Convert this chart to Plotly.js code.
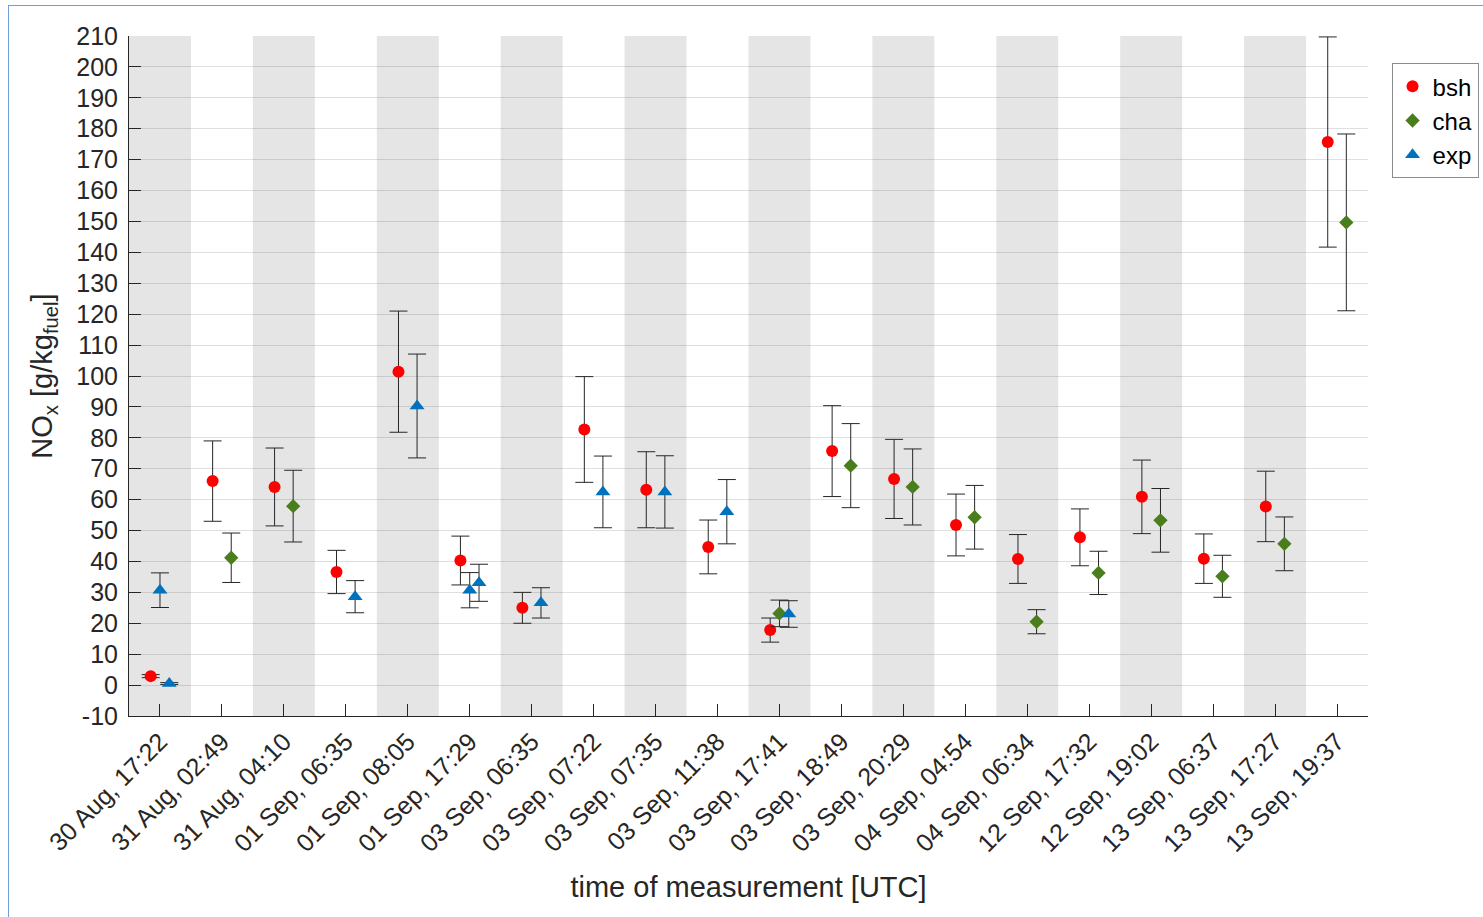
<!DOCTYPE html>
<html>
<head>
<meta charset="utf-8">
<script src="https://cdn.plot.ly/plotly-3.0.1.min.js"></script>
<style>
  html, body { margin: 0; padding: 0; background: #ffffff; }
  #chart { width: 1483px; height: 917px; }
  #frame { position: absolute; left: 8px; top: 5px; width: 1500px; height: 950px;
           border-left: 1px solid #6f9fd8; border-top: 1px solid #6f9fd8; pointer-events: none; }
</style>
</head>
<body>
<div id="chart"></div>
<div id="frame"></div>
<script>
// ---- data ----
const categories = ["30 Aug, 17:22", "31 Aug, 02:49", "31 Aug, 04:10", "01 Sep, 06:35", "01 Sep, 08:05",
  "01 Sep, 17:29", "03 Sep, 06:35", "03 Sep, 07:22", "03 Sep, 07:35", "03 Sep, 11:38",
  "03 Sep, 17:41", "03 Sep, 18:49", "03 Sep, 20:29", "04 Sep, 04:54", "04 Sep, 06:34",
  "12 Sep, 17:32", "12 Sep, 19:02", "13 Sep, 06:37", "13 Sep, 17:27", "13 Sep, 19:37"];

const bsh    = [2.9, 66.0, 64.1, 36.6, 101.4, 40.3, 25.0, 82.7, 63.2, 44.7, 17.8, 75.7, 66.7, 51.8, 40.8, 47.8, 60.9, 40.9, 57.8, 175.7];
const bshErr = [0.5, 13.0, 12.6, 7.0, 19.6, 7.9, 5.0, 17.1, 12.3, 8.7, 3.9, 14.7, 12.8, 10.0, 7.9, 9.2, 11.9, 8.0, 11.4, 34.0];

const cha    = [null, 41.2, 57.9, null, null, null, null, null, null, null, 23.2, 71.0, 64.1, 54.3, 20.5, 36.3, 53.3, 35.2, 45.7, 149.7];
const chaErr = [null, 8.0, 11.6, null, null, null, null, null, null, null, 4.3, 13.6, 12.3, 10.3, 3.9, 7.0, 10.3, 6.8, 8.7, 28.6];

// second "exp" measurement at the same time slot (drawn in the middle position)
const exp2    = [30.7, null, null, null, null, 30.7, null, null, null, null, null, null, null, null, null, null, null, null, null, null];
const exp2Err = [5.6, null, null, null, null, 5.7, null, null, null, null, null, null, null, null, null, null, null, null, null, null];

const exp    = [0.5, null, null, 28.6, 90.3, 33.1, 26.6, 62.5, 62.5, 56.1, 23.0, null, null, null, null, null, null, null, null, null];
const expErr = [0.3, null, null, 5.2, 16.8, 6.0, 4.9, 11.6, 11.7, 10.4, 4.3, null, null, null, null, null, null, null, null, null];

const yTickValues = [-10, 0, 10, 20, 30, 40, 50, 60, 70, 80, 90, 100, 110, 120, 130, 140, 150, 160, 170, 180, 190, 200, 210];

// ---- positions: series present in a slot are spread around the slot centre ----
const seriesOrder = [bsh, cha, exp2, exp];
const xs = seriesOrder.map(() => []);
categories.forEach((c, i) => {
  const present = seriesOrder.map((s, k) => s[i] !== null ? k : -1).filter(k => k >= 0);
  const n = present.length;
  const offs = n === 3 ? [-0.15, 0, 0.15] : (n === 2 ? [-0.15, 0.15] : [0]);
  seriesOrder.forEach((s, k) => {
    const r = present.indexOf(k);
    xs[k].push(r >= 0 ? (i + 1) + offs[r] : null);
  });
});

const errStyle = (arr) => ({ type: 'data', array: arr, visible: true, color: '#262626', thickness: 1, width: 9 });

const traces = [
  { name: 'bsh', x: xs[0], y: bsh, type: 'scatter', mode: 'markers',
    marker: { symbol: 'circle', size: 12, color: '#ff0000' }, error_y: errStyle(bshErr) },
  { name: 'cha', x: xs[1], y: cha, type: 'scatter', mode: 'markers',
    marker: { symbol: 'diamond', size: 11, color: '#4a7d1c' }, error_y: errStyle(chaErr) },
  { name: 'exp', x: xs[2], y: exp2, type: 'scatter', mode: 'markers', showlegend: false,
    marker: { symbol: 'triangle-up', size: 13, color: '#0072bd' }, error_y: errStyle(exp2Err) },
  { name: 'exp', x: xs[3], y: exp, type: 'scatter', mode: 'markers',
    marker: { symbol: 'triangle-up', size: 13, color: '#0072bd' }, error_y: errStyle(expErr) }
];

// alternating shaded bands for odd slots
const shapes = [];
categories.forEach((c, i) => {
  if (i % 2 === 0) {
    shapes.push({ type: 'rect', xref: 'x', yref: 'paper', x0: i + 0.5, x1: i + 1.5, y0: 0, y1: 1,
      fillcolor: '#e5e5e5', line: { width: 0 }, layer: 'below' });
  }
});

const tickVals = categories.map((c, i) => i + 1);

const layout = {
  width: 1483, height: 917,
  margin: { l: 129, r: 115, t: 36, b: 201, autoexpand: false },
  paper_bgcolor: '#ffffff', plot_bgcolor: '#ffffff',
  font: { family: 'Liberation Sans, Arial, sans-serif', size: 25, color: '#262626' },
  showlegend: true,
  legend: { x: 1.019, xanchor: 'left', y: 0.96, yanchor: 'top',
    bordercolor: '#8c8c8c', borderwidth: 1, bgcolor: '#ffffff',
    font: { size: 24, color: '#000000' }, itemwidth: 30, tracegroupgap: 0 },
  xaxis: {
    range: [0.5, 20.5], tickmode: 'array', tickvals: tickVals, ticktext: categories,
    tickangle: -45, ticks: 'inside', ticklen: 12, tickcolor: '#262626', tickwidth: 1,
    showgrid: false, zeroline: false, showline: true, linecolor: '#262626', linewidth: 1,
    tickfont: { size: 25, color: '#262626' },
    title: { text: 'time of measurement [UTC]', font: { size: 29, color: '#262626' }, standoff: 20 }
  },
  yaxis: {
    range: [-10, 210], tickmode: 'array', tickvals: yTickValues, ticktext: yTickValues.map(v => String(v)),
    ticks: 'inside', ticklen: 12, tickcolor: '#262626', tickwidth: 1, ticklabelstandoff: 5,
    showgrid: true, gridcolor: 'rgba(38,38,38,0.15)', gridwidth: 1,
    zeroline: false, showline: true, linecolor: '#262626', linewidth: 1,
    tickfont: { size: 25, color: '#262626' },
    title: { text: 'NO<sub>x</sub> [g/kg<sub>fuel</sub>]', font: { size: 29, color: '#262626' }, standoff: 15 }
  },
  shapes: shapes
};

Plotly.newPlot('chart', traces, layout, { displayModeBar: false, staticPlot: true });
</script>
</body>
</html>
